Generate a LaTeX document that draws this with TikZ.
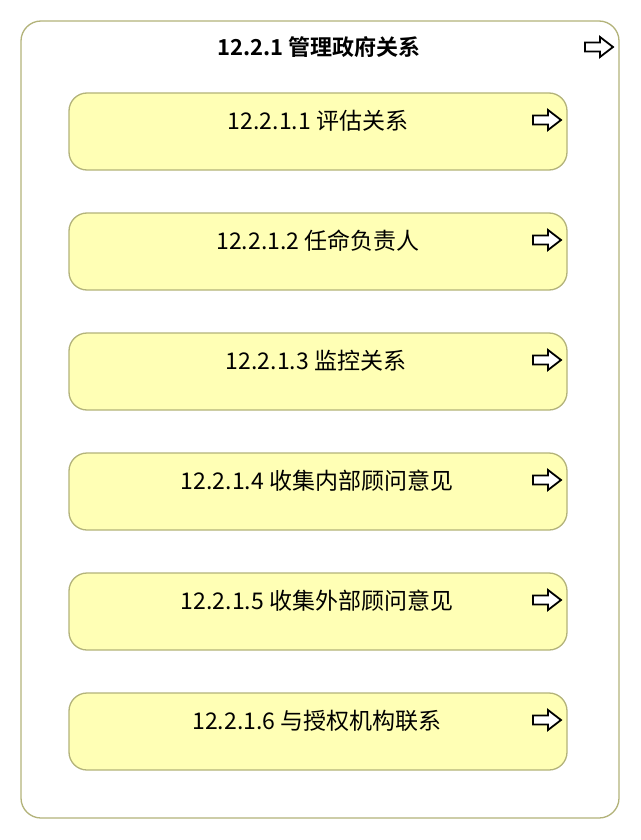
\documentclass[tikz,border=0pt]{standalone}
\usepackage{fontspec}
\setmainfont{Noto Sans CJK SC}
\newfontfamily\cjkbold{Noto Sans CJK SC Bold}
\begin{document}
\begin{tikzpicture}[x=1pt,y=-1pt,
  outerbox/.style={draw=olivebd,line width=1.3pt,fill=white,rounded corners=20pt},
  innerbox/.style={draw=olivebd,line width=1.3pt,fill=paleyellow,rounded corners=18pt},
  lbl/.style={font=\fontsize{23}{26}\selectfont,anchor=center,inner sep=0pt},
  ttl/.style={font=\cjkbold\fontsize{22}{25}\selectfont,anchor=center,inner sep=0pt},
  arrowicon/.style={draw=black,line width=1.8pt,fill=white,line join=miter}]
\definecolor{olivebd}{HTML}{B3B37A}
\definecolor{paleyellow}{HTML}{FFFFB5}
\useasboundingbox (0,0) rectangle (640,840);
\newcommand{\rarrow}[2]{%
  \draw[arrowicon] (#1,#2-4.5) -- (#1+15,#2-4.5) -- (#1+15,#2-10) -- (#1+28,#2) -- (#1+15,#2+10) -- (#1+15,#2+4.5) -- (#1,#2+4.5) -- cycle;}
\draw[outerbox] (21,21) rectangle (619,818);
\coordinate (outer) at (320,420);
\node[ttl] (title) at (319,47) {12.2.1 管理政府关系};
\rarrow{585}{47}
\foreach \i/\t/\cx in {0/12.2.1.1 评估关系/318,1/12.2.1.2 任命负责人/318,2/12.2.1.3 监控关系/316,3/12.2.1.4 收集内部顾问意见/317,4/12.2.1.5 收集外部顾问意见/317,5/12.2.1.6 与授权机构联系/317}{
  \pgfmathsetmacro{\yt}{93+120*\i}
  \draw[innerbox] (69,\yt) rectangle (567,\yt+77);
  \node[lbl] (b\i) at (\cx,\yt+28) {\t};
  \rarrow{533}{\yt+27}
}
\end{tikzpicture}
\end{document}
